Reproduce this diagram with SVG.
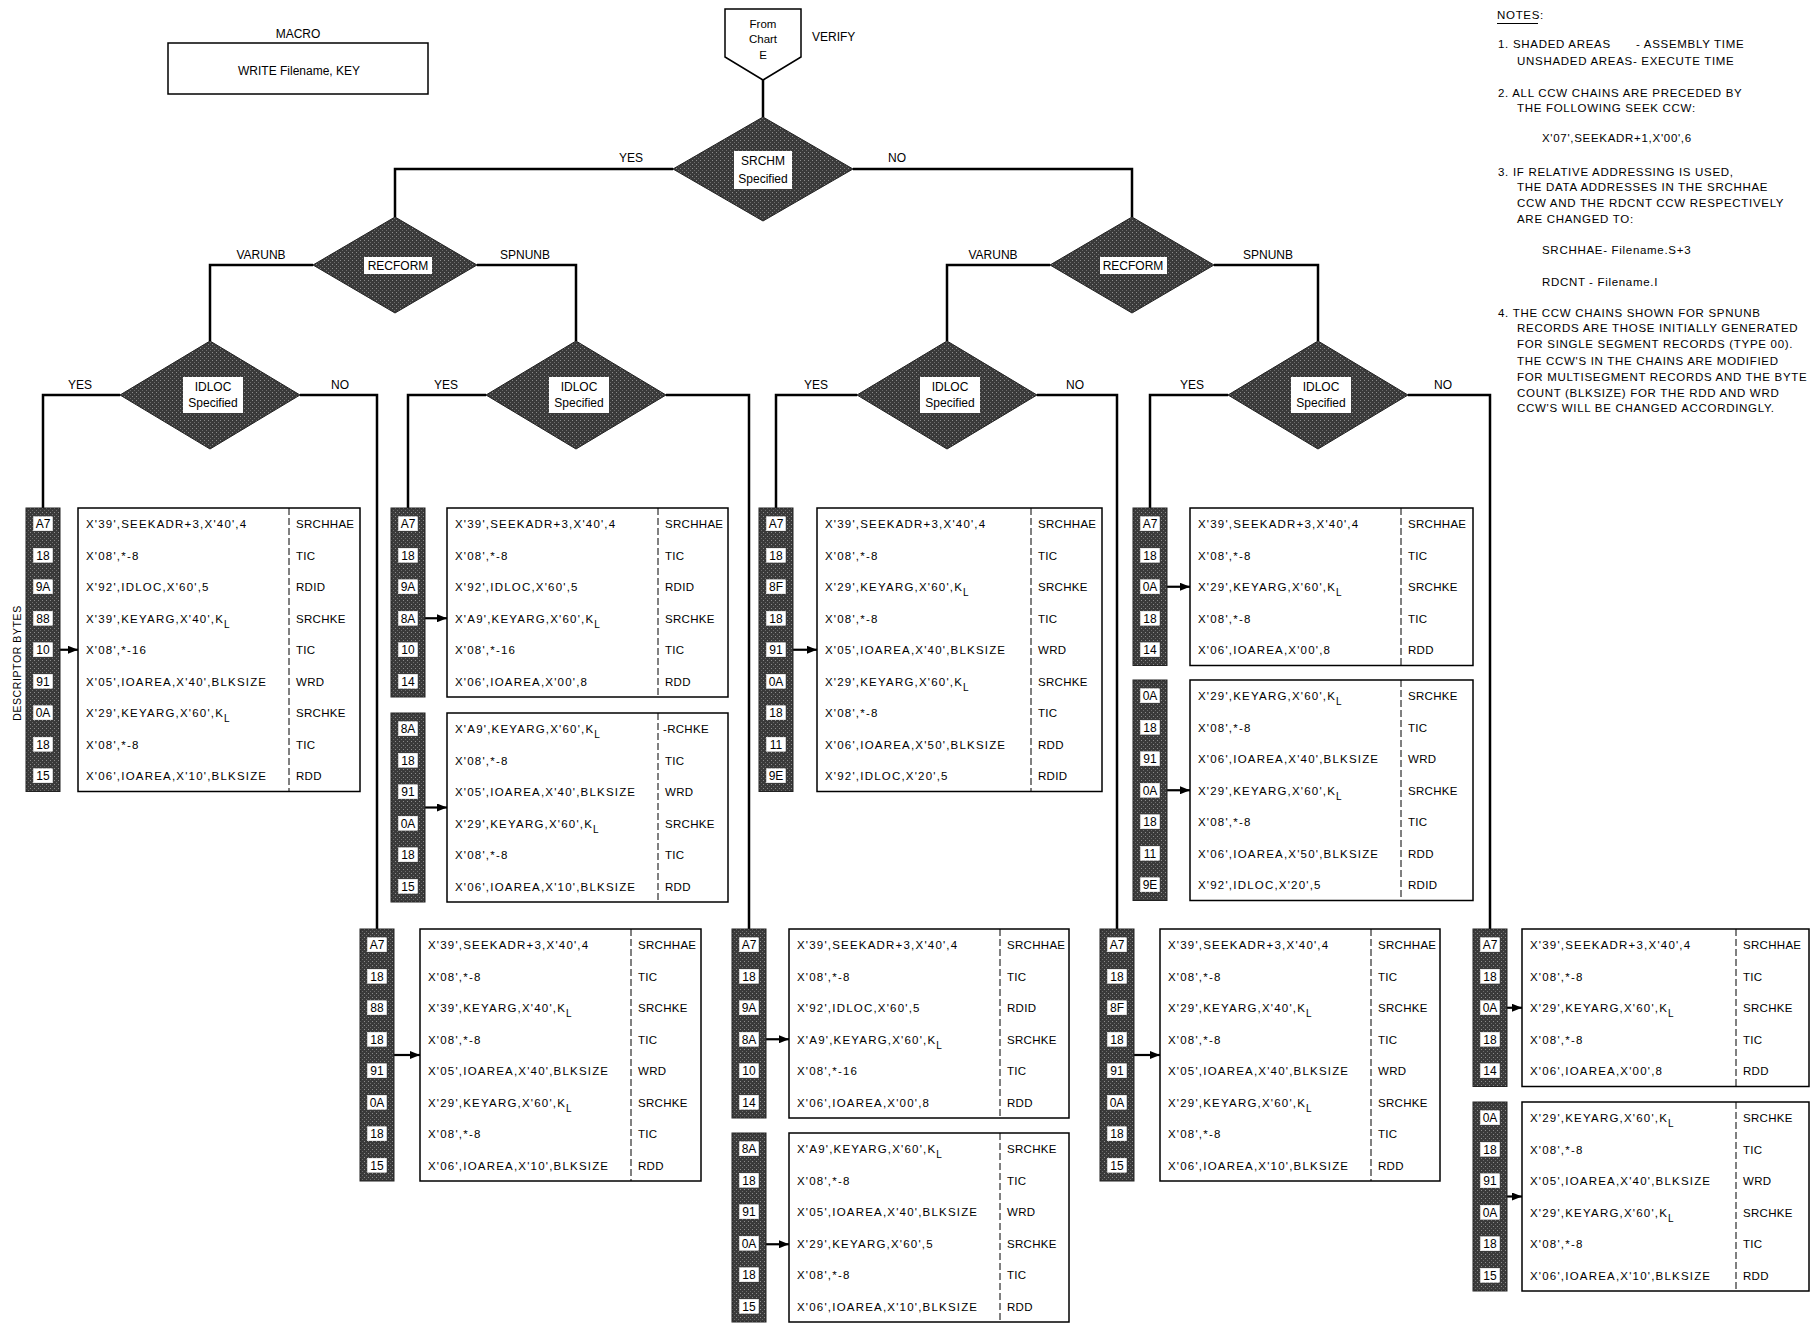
<svg xmlns="http://www.w3.org/2000/svg" width="1815" height="1324" viewBox="0 0 1815 1324">
<defs>
<pattern id="shade" width="4" height="4" patternUnits="userSpaceOnUse"><rect width="4" height="4" fill="#3a3a3a"/><rect width="1" height="1" fill="#8c8c8c"/><rect x="2" y="2" width="1" height="1" fill="#6c6c6c"/></pattern>
<marker id="ah" markerWidth="10" markerHeight="8" refX="10" refY="4" orient="auto" markerUnits="userSpaceOnUse"><path d="M0,0 L10,4 L0,8 z" fill="#000"/></marker>
</defs>
<style>
text{font-family:"Liberation Sans",Arial,sans-serif;fill:#000}
.ln{stroke:#000;stroke-width:2.5;fill:none}
.arr{stroke:#000;stroke-width:2.2;fill:none;marker-end:url(#ah)}
.bar{fill:url(#shade);stroke:#222;stroke-width:1}
.box{fill:#fff;stroke:#000;stroke-width:1.5}
.dv{stroke:#000;stroke-width:1;stroke-dasharray:7 3}
.hx{fill:#fff;stroke:#fff;stroke-width:0.5}
.ht{font-size:12px;text-anchor:middle}
.c{font-size:11.5px;letter-spacing:1.2px}
.l{font-size:11.5px;letter-spacing:0.3px}
.sub{font-size:10px}
.dm{fill:url(#shade);stroke:#222;stroke-width:1}
.wb{fill:#fff}
.dl{font-size:12px;text-anchor:middle}
.yn{font-size:12px;text-anchor:middle}
.nt{font-size:11.5px;letter-spacing:0.7px}
</style>
<rect width="1815" height="1324" fill="#fff"/>

<g id="macro">
<text x="298" y="38" class="dl">MACRO</text>
<rect x="168" y="43" width="260" height="51" fill="#fff" stroke="#000" stroke-width="1.5"/>
<text x="299" y="75" class="dl">WRITE Filename, KEY</text>
</g>

<g id="start">
<polygon points="725,9 801,9 801,57 763,80 725,57" fill="#fff" stroke="#000" stroke-width="1.5"/>
<text x="763" y="28" class="dl" style="font-size:11.5px">From</text>
<text x="763" y="43" class="dl" style="font-size:11.5px">Chart</text>
<text x="763" y="59" class="dl" style="font-size:11.5px">E</text>
<text x="812" y="41" style="font-size:12px">VERIFY</text>
</g>

<g id="srchm">
<polygon class="dm" points="763,117 853,169 763,221 673,169"/>
<rect class="wb" x="734" y="151" width="58" height="38"/>
<text x="763" y="165" class="dl">SRCHM</text>
<text x="763" y="183" class="dl">Specified</text>
</g>

<g id="recform1">
<polygon class="dm" points="395,217 477,265 395,313 313,265"/>
<rect class="wb" x="364" y="257" width="68" height="17"/>
<text x="398" y="270" class="dl">RECFORM</text>
</g>
<g id="recform2">
<polygon class="dm" points="1132,217 1214,265 1132,313 1050,265"/>
<rect class="wb" x="1100" y="257" width="67" height="17"/>
<text x="1133" y="270" class="dl">RECFORM</text>
</g>

<g id="idloc1">
<polygon class="dm" points="210,341 300,395 210,449 120,395"/>
<rect class="wb" x="183" y="377" width="60" height="36"/>
<text x="213" y="391" class="dl">IDLOC</text>
<text x="213" y="407" class="dl">Specified</text>
</g>
<g id="idloc2">
<polygon class="dm" points="576,341 666,395 576,449 486,395"/>
<rect class="wb" x="549" y="377" width="60" height="36"/>
<text x="579" y="391" class="dl">IDLOC</text>
<text x="579" y="407" class="dl">Specified</text>
</g>
<g id="idloc3">
<polygon class="dm" points="947,341 1037,395 947,449 857,395"/>
<rect class="wb" x="920" y="377" width="60" height="36"/>
<text x="950" y="391" class="dl">IDLOC</text>
<text x="950" y="407" class="dl">Specified</text>
</g>
<g id="idloc4">
<polygon class="dm" points="1318,341 1408,395 1318,449 1228,395"/>
<rect class="wb" x="1291" y="377" width="60" height="36"/>
<text x="1321" y="391" class="dl">IDLOC</text>
<text x="1321" y="407" class="dl">Specified</text>
</g>

<g id="connectors">
<line class="ln" x1="763" y1="80" x2="763" y2="117"/>
<polyline class="ln" points="673,169 395,169 395,217"/>
<polyline class="ln" points="853,169 1132,169 1132,217"/>
<polyline class="ln" points="313,265 210,265 210,341"/>
<polyline class="ln" points="477,265 576,265 576,341"/>
<polyline class="ln" points="1050,265 947,265 947,341"/>
<polyline class="ln" points="1214,265 1318,265 1318,341"/>
<polyline class="ln" points="120,395 43,395 43,508"/>
<polyline class="ln" points="300,395 377,395 377,929"/>
<polyline class="ln" points="486,395 408,395 408,508"/>
<polyline class="ln" points="666,395 749,395 749,929"/>
<polyline class="ln" points="857,395 776,395 776,508"/>
<polyline class="ln" points="1037,395 1117,395 1117,929"/>
<polyline class="ln" points="1228,395 1150,395 1150,508"/>
<polyline class="ln" points="1408,395 1490,395 1490,929"/>
<line class="arr" x1="60" y1="649.75" x2="78" y2="649.75"/>
<line class="arr" x1="425" y1="618.25" x2="447" y2="618.25"/>
<line class="arr" x1="425" y1="807.5" x2="447" y2="807.5"/>
<line class="arr" x1="793" y1="649.75" x2="817" y2="649.75"/>
<line class="arr" x1="1167" y1="586.75" x2="1190" y2="586.75"/>
<line class="arr" x1="1167" y1="790.25" x2="1190" y2="790.25"/>
<line class="arr" x1="394" y1="1055" x2="420" y2="1055"/>
<line class="arr" x1="766" y1="1039.25" x2="789" y2="1039.25"/>
<line class="arr" x1="766" y1="1244.25" x2="789" y2="1244.25"/>
<line class="arr" x1="1134" y1="1055" x2="1160" y2="1055"/>
<line class="arr" x1="1507" y1="1007.75" x2="1522" y2="1007.75"/>
<line class="arr" x1="1507" y1="1196.5" x2="1522" y2="1196.5"/>
<text x="631" y="162" class="yn">YES</text>
<text x="897" y="162" class="yn">NO</text>
<text x="261" y="259" class="yn">VARUNB</text>
<text x="525" y="259" class="yn">SPNUNB</text>
<text x="993" y="259" class="yn">VARUNB</text>
<text x="1268" y="259" class="yn">SPNUNB</text>
<text x="80" y="389" class="yn">YES</text>
<text x="340" y="389" class="yn">NO</text>
<text x="446" y="389" class="yn">YES</text>
<text x="816" y="389" class="yn">YES</text>
<text x="1075" y="389" class="yn">NO</text>
<text x="1192" y="389" class="yn">YES</text>
<text x="1443" y="389" class="yn">NO</text>
</g>

<text transform="translate(21,663) rotate(-90)" text-anchor="middle" style="font-size:10.5px;letter-spacing:0.6px">DESCRIPTOR BYTES</text>

<g id="chain-a" transform="translate(26,508)">
<rect class="bar" x="0" y="0" width="34" height="283.5"/>
<rect class="box" x="52" y="0" width="282" height="283.5"/>
<line class="dv" x1="263" y1="0" x2="263" y2="283.5"/>
<rect class="hx" x="7.5" y="8.75" width="19" height="14"/><text class="ht" x="17" y="20.25">A7</text>
<rect class="hx" x="7.5" y="40.25" width="19" height="14"/><text class="ht" x="17" y="51.75">18</text>
<rect class="hx" x="7.5" y="71.75" width="19" height="14"/><text class="ht" x="17" y="83.25">9A</text>
<rect class="hx" x="7.5" y="103.25" width="19" height="14"/><text class="ht" x="17" y="114.75">88</text>
<rect class="hx" x="7.5" y="134.75" width="19" height="14"/><text class="ht" x="17" y="146.25">10</text>
<rect class="hx" x="7.5" y="166.25" width="19" height="14"/><text class="ht" x="17" y="177.75">91</text>
<rect class="hx" x="7.5" y="197.75" width="19" height="14"/><text class="ht" x="17" y="209.25">0A</text>
<rect class="hx" x="7.5" y="229.25" width="19" height="14"/><text class="ht" x="17" y="240.75">18</text>
<rect class="hx" x="7.5" y="260.75" width="19" height="14"/><text class="ht" x="17" y="272.25">15</text>
<text class="c" x="60" y="20.25">X'39',SEEKADR+3,X'40',4</text><text class="l" x="270" y="20.25">SRCHHAE</text>
<text class="c" x="60" y="51.75">X'08',*-8</text><text class="l" x="270" y="51.75">TIC</text>
<text class="c" x="60" y="83.25">X'92',IDLOC,X'60',5</text><text class="l" x="270" y="83.25">RDID</text>
<text class="c" x="60" y="114.75">X'39',KEYARG,X'40',K<tspan class="sub" dy="5">L</tspan></text><text class="l" x="270" y="114.75">SRCHKE</text>
<text class="c" x="60" y="146.25">X'08',*-16</text><text class="l" x="270" y="146.25">TIC</text>
<text class="c" x="60" y="177.75">X'05',IOAREA,X'40',BLKSIZE</text><text class="l" x="270" y="177.75">WRD</text>
<text class="c" x="60" y="209.25">X'29',KEYARG,X'60',K<tspan class="sub" dy="5">L</tspan></text><text class="l" x="270" y="209.25">SRCHKE</text>
<text class="c" x="60" y="240.75">X'08',*-8</text><text class="l" x="270" y="240.75">TIC</text>
<text class="c" x="60" y="272.25">X'06',IOAREA,X'10',BLKSIZE</text><text class="l" x="270" y="272.25">RDD</text>
</g>

<g id="chain-b1" transform="translate(391,508)">
<rect class="bar" x="0" y="0" width="34" height="189"/>
<rect class="box" x="56" y="0" width="281" height="189"/>
<line class="dv" x1="267" y1="0" x2="267" y2="189"/>
<rect class="hx" x="7.5" y="8.75" width="19" height="14"/><text class="ht" x="17" y="20.25">A7</text>
<rect class="hx" x="7.5" y="40.25" width="19" height="14"/><text class="ht" x="17" y="51.75">18</text>
<rect class="hx" x="7.5" y="71.75" width="19" height="14"/><text class="ht" x="17" y="83.25">9A</text>
<rect class="hx" x="7.5" y="103.25" width="19" height="14"/><text class="ht" x="17" y="114.75">8A</text>
<rect class="hx" x="7.5" y="134.75" width="19" height="14"/><text class="ht" x="17" y="146.25">10</text>
<rect class="hx" x="7.5" y="166.25" width="19" height="14"/><text class="ht" x="17" y="177.75">14</text>
<text class="c" x="64" y="20.25">X'39',SEEKADR+3,X'40',4</text><text class="l" x="274" y="20.25">SRCHHAE</text>
<text class="c" x="64" y="51.75">X'08',*-8</text><text class="l" x="274" y="51.75">TIC</text>
<text class="c" x="64" y="83.25">X'92',IDLOC,X'60',5</text><text class="l" x="274" y="83.25">RDID</text>
<text class="c" x="64" y="114.75">X'A9',KEYARG,X'60',K<tspan class="sub" dy="5">L</tspan></text><text class="l" x="274" y="114.75">SRCHKE</text>
<text class="c" x="64" y="146.25">X'08',*-16</text><text class="l" x="274" y="146.25">TIC</text>
<text class="c" x="64" y="177.75">X'06',IOAREA,X'00',8</text><text class="l" x="274" y="177.75">RDD</text>
</g>

<g id="chain-b2" transform="translate(391,713)">
<rect class="bar" x="0" y="0" width="34" height="189"/>
<rect class="box" x="56" y="0" width="281" height="189"/>
<line class="dv" x1="267" y1="0" x2="267" y2="189"/>
<rect class="hx" x="7.5" y="8.75" width="19" height="14"/><text class="ht" x="17" y="20.25">8A</text>
<rect class="hx" x="7.5" y="40.25" width="19" height="14"/><text class="ht" x="17" y="51.75">18</text>
<rect class="hx" x="7.5" y="71.75" width="19" height="14"/><text class="ht" x="17" y="83.25">91</text>
<rect class="hx" x="7.5" y="103.25" width="19" height="14"/><text class="ht" x="17" y="114.75">0A</text>
<rect class="hx" x="7.5" y="134.75" width="19" height="14"/><text class="ht" x="17" y="146.25">18</text>
<rect class="hx" x="7.5" y="166.25" width="19" height="14"/><text class="ht" x="17" y="177.75">15</text>
<text class="c" x="64" y="20.25">X'A9',KEYARG,X'60',K<tspan class="sub" dy="5">L</tspan></text><text class="l" x="272" y="20.25">-RCHKE</text>
<text class="c" x="64" y="51.75">X'08',*-8</text><text class="l" x="274" y="51.75">TIC</text>
<text class="c" x="64" y="83.25">X'05',IOAREA,X'40',BLKSIZE</text><text class="l" x="274" y="83.25">WRD</text>
<text class="c" x="64" y="114.75">X'29',KEYARG,X'60',K<tspan class="sub" dy="5">L</tspan></text><text class="l" x="274" y="114.75">SRCHKE</text>
<text class="c" x="64" y="146.25">X'08',*-8</text><text class="l" x="274" y="146.25">TIC</text>
<text class="c" x="64" y="177.75">X'06',IOAREA,X'10',BLKSIZE</text><text class="l" x="274" y="177.75">RDD</text>
</g>

<g id="chain-c" transform="translate(759,508)">
<rect class="bar" x="0" y="0" width="34" height="283.5"/>
<rect class="box" x="58" y="0" width="285" height="283.5"/>
<line class="dv" x1="272" y1="0" x2="272" y2="283.5"/>
<rect class="hx" x="7.5" y="8.75" width="19" height="14"/><text class="ht" x="17" y="20.25">A7</text>
<rect class="hx" x="7.5" y="40.25" width="19" height="14"/><text class="ht" x="17" y="51.75">18</text>
<rect class="hx" x="7.5" y="71.75" width="19" height="14"/><text class="ht" x="17" y="83.25">8F</text>
<rect class="hx" x="7.5" y="103.25" width="19" height="14"/><text class="ht" x="17" y="114.75">18</text>
<rect class="hx" x="7.5" y="134.75" width="19" height="14"/><text class="ht" x="17" y="146.25">91</text>
<rect class="hx" x="7.5" y="166.25" width="19" height="14"/><text class="ht" x="17" y="177.75">0A</text>
<rect class="hx" x="7.5" y="197.75" width="19" height="14"/><text class="ht" x="17" y="209.25">18</text>
<rect class="hx" x="7.5" y="229.25" width="19" height="14"/><text class="ht" x="17" y="240.75">11</text>
<rect class="hx" x="7.5" y="260.75" width="19" height="14"/><text class="ht" x="17" y="272.25">9E</text>
<text class="c" x="66" y="20.25">X'39',SEEKADR+3,X'40',4</text><text class="l" x="279" y="20.25">SRCHHAE</text>
<text class="c" x="66" y="51.75">X'08',*-8</text><text class="l" x="279" y="51.75">TIC</text>
<text class="c" x="66" y="83.25">X'29',KEYARG,X'60',K<tspan class="sub" dy="5">L</tspan></text><text class="l" x="279" y="83.25">SRCHKE</text>
<text class="c" x="66" y="114.75">X'08',*-8</text><text class="l" x="279" y="114.75">TIC</text>
<text class="c" x="66" y="146.25">X'05',IOAREA,X'40',BLKSIZE</text><text class="l" x="279" y="146.25">WRD</text>
<text class="c" x="66" y="177.75">X'29',KEYARG,X'60',K<tspan class="sub" dy="5">L</tspan></text><text class="l" x="279" y="177.75">SRCHKE</text>
<text class="c" x="66" y="209.25">X'08',*-8</text><text class="l" x="279" y="209.25">TIC</text>
<text class="c" x="66" y="240.75">X'06',IOAREA,X'50',BLKSIZE</text><text class="l" x="279" y="240.75">RDD</text>
<text class="c" x="66" y="272.25">X'92',IDLOC,X'20',5</text><text class="l" x="279" y="272.25">RDID</text>
</g>

<g id="chain-d1" transform="translate(1133,508)">
<rect class="bar" x="0" y="0" width="34" height="157.5"/>
<rect class="box" x="57" y="0" width="283" height="157.5"/>
<line class="dv" x1="268" y1="0" x2="268" y2="157.5"/>
<rect class="hx" x="7.5" y="8.75" width="19" height="14"/><text class="ht" x="17" y="20.25">A7</text>
<rect class="hx" x="7.5" y="40.25" width="19" height="14"/><text class="ht" x="17" y="51.75">18</text>
<rect class="hx" x="7.5" y="71.75" width="19" height="14"/><text class="ht" x="17" y="83.25">0A</text>
<rect class="hx" x="7.5" y="103.25" width="19" height="14"/><text class="ht" x="17" y="114.75">18</text>
<rect class="hx" x="7.5" y="134.75" width="19" height="14"/><text class="ht" x="17" y="146.25">14</text>
<text class="c" x="65" y="20.25">X'39',SEEKADR+3,X'40',4</text><text class="l" x="275" y="20.25">SRCHHAE</text>
<text class="c" x="65" y="51.75">X'08',*-8</text><text class="l" x="275" y="51.75">TIC</text>
<text class="c" x="65" y="83.25">X'29',KEYARG,X'60',K<tspan class="sub" dy="5">L</tspan></text><text class="l" x="275" y="83.25">SRCHKE</text>
<text class="c" x="65" y="114.75">X'08',*-8</text><text class="l" x="275" y="114.75">TIC</text>
<text class="c" x="65" y="146.25">X'06',IOAREA,X'00',8</text><text class="l" x="275" y="146.25">RDD</text>
</g>

<g id="chain-d2" transform="translate(1133,680)">
<rect class="bar" x="0" y="0" width="34" height="220.5"/>
<rect class="box" x="57" y="0" width="283" height="220.5"/>
<line class="dv" x1="268" y1="0" x2="268" y2="220.5"/>
<rect class="hx" x="7.5" y="8.75" width="19" height="14"/><text class="ht" x="17" y="20.25">0A</text>
<rect class="hx" x="7.5" y="40.25" width="19" height="14"/><text class="ht" x="17" y="51.75">18</text>
<rect class="hx" x="7.5" y="71.75" width="19" height="14"/><text class="ht" x="17" y="83.25">91</text>
<rect class="hx" x="7.5" y="103.25" width="19" height="14"/><text class="ht" x="17" y="114.75">0A</text>
<rect class="hx" x="7.5" y="134.75" width="19" height="14"/><text class="ht" x="17" y="146.25">18</text>
<rect class="hx" x="7.5" y="166.25" width="19" height="14"/><text class="ht" x="17" y="177.75">11</text>
<rect class="hx" x="7.5" y="197.75" width="19" height="14"/><text class="ht" x="17" y="209.25">9E</text>
<text class="c" x="65" y="20.25">X'29',KEYARG,X'60',K<tspan class="sub" dy="5">L</tspan></text><text class="l" x="275" y="20.25">SRCHKE</text>
<text class="c" x="65" y="51.75">X'08',*-8</text><text class="l" x="275" y="51.75">TIC</text>
<text class="c" x="65" y="83.25">X'06',IOAREA,X'40',BLKSIZE</text><text class="l" x="275" y="83.25">WRD</text>
<text class="c" x="65" y="114.75">X'29',KEYARG,X'60',K<tspan class="sub" dy="5">L</tspan></text><text class="l" x="275" y="114.75">SRCHKE</text>
<text class="c" x="65" y="146.25">X'08',*-8</text><text class="l" x="275" y="146.25">TIC</text>
<text class="c" x="65" y="177.75">X'06',IOAREA,X'50',BLKSIZE</text><text class="l" x="275" y="177.75">RDD</text>
<text class="c" x="65" y="209.25">X'92',IDLOC,X'20',5</text><text class="l" x="275" y="209.25">RDID</text>
</g>

<g id="chain-e" transform="translate(360,929)">
<rect class="bar" x="0" y="0" width="34" height="252"/>
<rect class="box" x="60" y="0" width="281" height="252"/>
<line class="dv" x1="271" y1="0" x2="271" y2="252"/>
<rect class="hx" x="7.5" y="8.75" width="19" height="14"/><text class="ht" x="17" y="20.25">A7</text>
<rect class="hx" x="7.5" y="40.25" width="19" height="14"/><text class="ht" x="17" y="51.75">18</text>
<rect class="hx" x="7.5" y="71.75" width="19" height="14"/><text class="ht" x="17" y="83.25">88</text>
<rect class="hx" x="7.5" y="103.25" width="19" height="14"/><text class="ht" x="17" y="114.75">18</text>
<rect class="hx" x="7.5" y="134.75" width="19" height="14"/><text class="ht" x="17" y="146.25">91</text>
<rect class="hx" x="7.5" y="166.25" width="19" height="14"/><text class="ht" x="17" y="177.75">0A</text>
<rect class="hx" x="7.5" y="197.75" width="19" height="14"/><text class="ht" x="17" y="209.25">18</text>
<rect class="hx" x="7.5" y="229.25" width="19" height="14"/><text class="ht" x="17" y="240.75">15</text>
<text class="c" x="68" y="20.25">X'39',SEEKADR+3,X'40',4</text><text class="l" x="278" y="20.25">SRCHHAE</text>
<text class="c" x="68" y="51.75">X'08',*-8</text><text class="l" x="278" y="51.75">TIC</text>
<text class="c" x="68" y="83.25">X'39',KEYARG,X'40',K<tspan class="sub" dy="5">L</tspan></text><text class="l" x="278" y="83.25">SRCHKE</text>
<text class="c" x="68" y="114.75">X'08',*-8</text><text class="l" x="278" y="114.75">TIC</text>
<text class="c" x="68" y="146.25">X'05',IOAREA,X'40',BLKSIZE</text><text class="l" x="278" y="146.25">WRD</text>
<text class="c" x="68" y="177.75">X'29',KEYARG,X'60',K<tspan class="sub" dy="5">L</tspan></text><text class="l" x="278" y="177.75">SRCHKE</text>
<text class="c" x="68" y="209.25">X'08',*-8</text><text class="l" x="278" y="209.25">TIC</text>
<text class="c" x="68" y="240.75">X'06',IOAREA,X'10',BLKSIZE</text><text class="l" x="278" y="240.75">RDD</text>
</g>

<g id="chain-f1" transform="translate(732,929)">
<rect class="bar" x="0" y="0" width="34" height="189"/>
<rect class="box" x="57" y="0" width="280" height="189"/>
<line class="dv" x1="268" y1="0" x2="268" y2="189"/>
<rect class="hx" x="7.5" y="8.75" width="19" height="14"/><text class="ht" x="17" y="20.25">A7</text>
<rect class="hx" x="7.5" y="40.25" width="19" height="14"/><text class="ht" x="17" y="51.75">18</text>
<rect class="hx" x="7.5" y="71.75" width="19" height="14"/><text class="ht" x="17" y="83.25">9A</text>
<rect class="hx" x="7.5" y="103.25" width="19" height="14"/><text class="ht" x="17" y="114.75">8A</text>
<rect class="hx" x="7.5" y="134.75" width="19" height="14"/><text class="ht" x="17" y="146.25">10</text>
<rect class="hx" x="7.5" y="166.25" width="19" height="14"/><text class="ht" x="17" y="177.75">14</text>
<text class="c" x="65" y="20.25">X'39',SEEKADR+3,X'40',4</text><text class="l" x="275" y="20.25">SRCHHAE</text>
<text class="c" x="65" y="51.75">X'08',*-8</text><text class="l" x="275" y="51.75">TIC</text>
<text class="c" x="65" y="83.25">X'92',IDLOC,X'60',5</text><text class="l" x="275" y="83.25">RDID</text>
<text class="c" x="65" y="114.75">X'A9',KEYARG,X'60',K<tspan class="sub" dy="5">L</tspan></text><text class="l" x="275" y="114.75">SRCHKE</text>
<text class="c" x="65" y="146.25">X'08',*-16</text><text class="l" x="275" y="146.25">TIC</text>
<text class="c" x="65" y="177.75">X'06',IOAREA,X'00',8</text><text class="l" x="275" y="177.75">RDD</text>
</g>

<g id="chain-f2" transform="translate(732,1133)">
<rect class="bar" x="0" y="0" width="34" height="189"/>
<rect class="box" x="57" y="0" width="280" height="189"/>
<line class="dv" x1="268" y1="0" x2="268" y2="189"/>
<rect class="hx" x="7.5" y="8.75" width="19" height="14"/><text class="ht" x="17" y="20.25">8A</text>
<rect class="hx" x="7.5" y="40.25" width="19" height="14"/><text class="ht" x="17" y="51.75">18</text>
<rect class="hx" x="7.5" y="71.75" width="19" height="14"/><text class="ht" x="17" y="83.25">91</text>
<rect class="hx" x="7.5" y="103.25" width="19" height="14"/><text class="ht" x="17" y="114.75">0A</text>
<rect class="hx" x="7.5" y="134.75" width="19" height="14"/><text class="ht" x="17" y="146.25">18</text>
<rect class="hx" x="7.5" y="166.25" width="19" height="14"/><text class="ht" x="17" y="177.75">15</text>
<text class="c" x="65" y="20.25">X'A9',KEYARG,X'60',K<tspan class="sub" dy="5">L</tspan></text><text class="l" x="275" y="20.25">SRCHKE</text>
<text class="c" x="65" y="51.75">X'08',*-8</text><text class="l" x="275" y="51.75">TIC</text>
<text class="c" x="65" y="83.25">X'05',IOAREA,X'40',BLKSIZE</text><text class="l" x="275" y="83.25">WRD</text>
<text class="c" x="65" y="114.75">X'29',KEYARG,X'60',5</text><text class="l" x="275" y="114.75">SRCHKE</text>
<text class="c" x="65" y="146.25">X'08',*-8</text><text class="l" x="275" y="146.25">TIC</text>
<text class="c" x="65" y="177.75">X'06',IOAREA,X'10',BLKSIZE</text><text class="l" x="275" y="177.75">RDD</text>
</g>

<g id="chain-g" transform="translate(1100,929)">
<rect class="bar" x="0" y="0" width="34" height="252"/>
<rect class="box" x="60" y="0" width="280" height="252"/>
<line class="dv" x1="271" y1="0" x2="271" y2="252"/>
<rect class="hx" x="7.5" y="8.75" width="19" height="14"/><text class="ht" x="17" y="20.25">A7</text>
<rect class="hx" x="7.5" y="40.25" width="19" height="14"/><text class="ht" x="17" y="51.75">18</text>
<rect class="hx" x="7.5" y="71.75" width="19" height="14"/><text class="ht" x="17" y="83.25">8F</text>
<rect class="hx" x="7.5" y="103.25" width="19" height="14"/><text class="ht" x="17" y="114.75">18</text>
<rect class="hx" x="7.5" y="134.75" width="19" height="14"/><text class="ht" x="17" y="146.25">91</text>
<rect class="hx" x="7.5" y="166.25" width="19" height="14"/><text class="ht" x="17" y="177.75">0A</text>
<rect class="hx" x="7.5" y="197.75" width="19" height="14"/><text class="ht" x="17" y="209.25">18</text>
<rect class="hx" x="7.5" y="229.25" width="19" height="14"/><text class="ht" x="17" y="240.75">15</text>
<text class="c" x="68" y="20.25">X'39',SEEKADR+3,X'40',4</text><text class="l" x="278" y="20.25">SRCHHAE</text>
<text class="c" x="68" y="51.75">X'08',*-8</text><text class="l" x="278" y="51.75">TIC</text>
<text class="c" x="68" y="83.25">X'29',KEYARG,X'40',K<tspan class="sub" dy="5">L</tspan></text><text class="l" x="278" y="83.25">SRCHKE</text>
<text class="c" x="68" y="114.75">X'08',*-8</text><text class="l" x="278" y="114.75">TIC</text>
<text class="c" x="68" y="146.25">X'05',IOAREA,X'40',BLKSIZE</text><text class="l" x="278" y="146.25">WRD</text>
<text class="c" x="68" y="177.75">X'29',KEYARG,X'60',K<tspan class="sub" dy="5">L</tspan></text><text class="l" x="278" y="177.75">SRCHKE</text>
<text class="c" x="68" y="209.25">X'08',*-8</text><text class="l" x="278" y="209.25">TIC</text>
<text class="c" x="68" y="240.75">X'06',IOAREA,X'10',BLKSIZE</text><text class="l" x="278" y="240.75">RDD</text>
</g>

<g id="chain-h1" transform="translate(1473,929)">
<rect class="bar" x="0" y="0" width="34" height="157.5"/>
<rect class="box" x="49" y="0" width="287" height="157.5"/>
<line class="dv" x1="263" y1="0" x2="263" y2="157.5"/>
<rect class="hx" x="7.5" y="8.75" width="19" height="14"/><text class="ht" x="17" y="20.25">A7</text>
<rect class="hx" x="7.5" y="40.25" width="19" height="14"/><text class="ht" x="17" y="51.75">18</text>
<rect class="hx" x="7.5" y="71.75" width="19" height="14"/><text class="ht" x="17" y="83.25">0A</text>
<rect class="hx" x="7.5" y="103.25" width="19" height="14"/><text class="ht" x="17" y="114.75">18</text>
<rect class="hx" x="7.5" y="134.75" width="19" height="14"/><text class="ht" x="17" y="146.25">14</text>
<text class="c" x="57" y="20.25">X'39',SEEKADR+3,X'40',4</text><text class="l" x="270" y="20.25">SRCHHAE</text>
<text class="c" x="57" y="51.75">X'08',*-8</text><text class="l" x="270" y="51.75">TIC</text>
<text class="c" x="57" y="83.25">X'29',KEYARG,X'60',K<tspan class="sub" dy="5">L</tspan></text><text class="l" x="270" y="83.25">SRCHKE</text>
<text class="c" x="57" y="114.75">X'08',*-8</text><text class="l" x="270" y="114.75">TIC</text>
<text class="c" x="57" y="146.25">X'06',IOAREA,X'00',8</text><text class="l" x="270" y="146.25">RDD</text>
</g>

<g id="chain-h2" transform="translate(1473,1102)">
<rect class="bar" x="0" y="0" width="34" height="189"/>
<rect class="box" x="49" y="0" width="287" height="189"/>
<line class="dv" x1="263" y1="0" x2="263" y2="189"/>
<rect class="hx" x="7.5" y="8.75" width="19" height="14"/><text class="ht" x="17" y="20.25">0A</text>
<rect class="hx" x="7.5" y="40.25" width="19" height="14"/><text class="ht" x="17" y="51.75">18</text>
<rect class="hx" x="7.5" y="71.75" width="19" height="14"/><text class="ht" x="17" y="83.25">91</text>
<rect class="hx" x="7.5" y="103.25" width="19" height="14"/><text class="ht" x="17" y="114.75">0A</text>
<rect class="hx" x="7.5" y="134.75" width="19" height="14"/><text class="ht" x="17" y="146.25">18</text>
<rect class="hx" x="7.5" y="166.25" width="19" height="14"/><text class="ht" x="17" y="177.75">15</text>
<text class="c" x="57" y="20.25">X'29',KEYARG,X'60',K<tspan class="sub" dy="5">L</tspan></text><text class="l" x="270" y="20.25">SRCHKE</text>
<text class="c" x="57" y="51.75">X'08',*-8</text><text class="l" x="270" y="51.75">TIC</text>
<text class="c" x="57" y="83.25">X'05',IOAREA,X'40',BLKSIZE</text><text class="l" x="270" y="83.25">WRD</text>
<text class="c" x="57" y="114.75">X'29',KEYARG,X'60',K<tspan class="sub" dy="5">L</tspan></text><text class="l" x="270" y="114.75">SRCHKE</text>
<text class="c" x="57" y="146.25">X'08',*-8</text><text class="l" x="270" y="146.25">TIC</text>
<text class="c" x="57" y="177.75">X'06',IOAREA,X'10',BLKSIZE</text><text class="l" x="270" y="177.75">RDD</text>
</g>

<g id="notes">
<text class="nt" x="1497" y="19">NOTES:</text>
<line x1="1497" y1="23.5" x2="1538" y2="23.5" stroke="#000" stroke-width="1"/>
<text class="nt" x="1498" y="48">1. SHADED AREAS</text>
<text class="nt" x="1636" y="48">- ASSEMBLY TIME</text>
<text class="nt" x="1517" y="65">UNSHADED AREAS- EXECUTE TIME</text>
<text class="nt" x="1498" y="97">2. ALL CCW CHAINS ARE PRECEDED BY</text>
<text class="nt" x="1517" y="112">THE FOLLOWING SEEK CCW:</text>
<text class="nt" x="1542" y="142">X'07',SEEKADR+1,X'00',6</text>
<text class="nt" x="1498" y="176">3. IF RELATIVE ADDRESSING IS USED,</text>
<text class="nt" x="1517" y="191">THE DATA ADDRESSES IN THE SRCHHAE</text>
<text class="nt" x="1517" y="207">CCW AND THE RDCNT CCW RESPECTIVELY</text>
<text class="nt" x="1517" y="223">ARE CHANGED TO:</text>
<text class="nt" x="1542" y="254">SRCHHAE- Filename.S+3</text>
<text class="nt" x="1542" y="286">RDCNT</text>
<text class="nt" x="1589" y="286">- Filename.I</text>
<text class="nt" x="1498" y="317">4. THE CCW CHAINS SHOWN FOR SPNUNB</text>
<text class="nt" x="1517" y="332">RECORDS ARE THOSE INITIALLY GENERATED</text>
<text class="nt" x="1517" y="348">FOR SINGLE SEGMENT RECORDS (TYPE 00).</text>
<text class="nt" x="1517" y="365">THE CCW'S IN THE CHAINS ARE MODIFIED</text>
<text class="nt" x="1517" y="381">FOR MULTISEGMENT RECORDS AND THE BYTE</text>
<text class="nt" x="1517" y="397">COUNT (BLKSIZE) FOR THE RDD AND WRD</text>
<text class="nt" x="1517" y="412">CCW'S WILL BE CHANGED ACCORDINGLY.</text>
</g>
</svg>
